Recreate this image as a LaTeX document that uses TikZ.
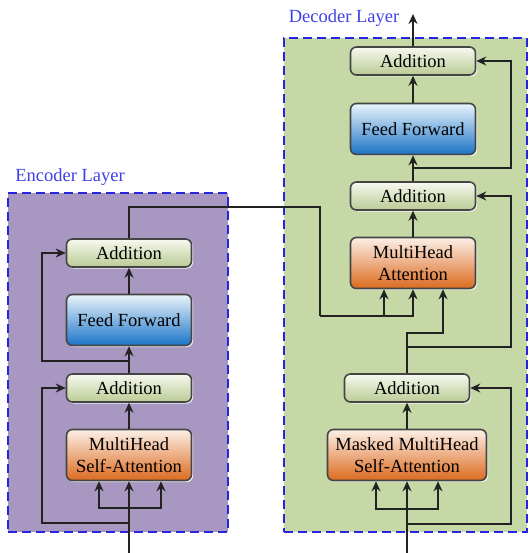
\documentclass[tikz,border=0pt]{standalone}
\usepackage{fontspec}
\setmainfont{Liberation Serif}
\usepackage{tikz}
\usepackage{xcolor}
\usetikzlibrary{arrows.meta, shadows}

\definecolor{encpurple}{HTML}{A897C0}
\definecolor{decgreen}{HTML}{C5D8A6}
\definecolor{layerblue}{HTML}{2626E0}
\definecolor{labelblue}{HTML}{4040E6}
\definecolor{edgegray}{HTML}{454545}
\definecolor{linegray}{HTML}{222222}
\definecolor{addtop}{HTML}{F7F9F0}
\definecolor{addbottom}{HTML}{BACB94}
\definecolor{fftop}{HTML}{EAF4FB}
\definecolor{ffbottom}{HTML}{1A74C8}
\definecolor{atttop}{HTML}{FCF0E8}
\definecolor{attbottom}{HTML}{DC6A1E}

\begin{document}
\begin{tikzpicture}[
    x=1pt, y=-1pt,
    font=\fontsize{18.5}{22}\selectfont,
    layerbox/.style={rectangle, draw=layerblue, line width=1.8pt, dash pattern=on 9pt off 5pt},
    layerlabel/.style={text=labelblue, inner sep=0pt},
    block/.style={rectangle, rounded corners=6pt, draw=edgegray, line width=1.6pt, minimum width=125pt, align=center, inner sep=2pt,
        drop shadow={shadow xshift=1.5pt, shadow yshift=-1.5pt, fill=white, opacity=0.85}},
    addbox/.style={block, minimum height=28pt, top color=addtop, bottom color=addbottom},
    ffbox/.style={block, minimum height=51pt, top color=fftop, bottom color=ffbottom},
    attbox/.style={block, minimum height=51pt, top color=atttop, bottom color=attbottom},
    arrow/.style={-{Stealth[length=10pt, width=9pt, fill=edgegray]}, draw=linegray, line width=1.5pt},
    link/.style={draw=linegray, line width=1.5pt}
]
\useasboundingbox (0,0) rectangle (529,553);

% Layer frames
\node[layerbox, fill=encpurple, minimum width=220pt, minimum height=339pt] (encLayer) at (118,362.5) {};
\node[layerbox, fill=decgreen, minimum width=243pt, minimum height=494pt] (decLayer) at (405.5,285) {};
\node[layerlabel] (encLabel) at (70,177) {Encoder Layer};
\node[layerlabel] (decLabel) at (344,18) {Decoder Layer};

% Encoder
\node[attbox] (encAttn) at (129,455) {MultiHead\\Self-Attention};
\node[addbox] (encAdd1) at (129,388) {Addition};
\node[ffbox] (encFF) at (129,320) {Feed Forward};
\node[addbox] (encAdd2) at (129,253) {Addition};

% Decoder
\node[attbox, minimum width=159pt] (decMasked) at (407,455) {Masked MultiHead\\Self-Attention};
\node[addbox] (decAdd1) at (407,388) {Addition};
\node[attbox] (decAttn) at (413,263) {MultiHead\\Attention};
\node[addbox] (decAdd2) at (413,196) {Addition};
\node[ffbox] (decFF) at (413,129) {Feed Forward};
\node[addbox] (decAdd3) at (413,61) {Addition};

% Helper points
\coordinate (encIn) at (129,553);
\coordinate (encFan) at (129,508);
\coordinate (encRes1) at (129,523);
\coordinate (encRes2) at (129,361);
\coordinate (encLink) at (320,316);
\coordinate (decIn) at (407,553);
\coordinate (decFan) at (407,509);
\coordinate (decRes1) at (407,524);
\coordinate (decRes2) at (407,347);
\coordinate (decQ) at (407,333);
\coordinate (decRes3) at (413,168);
\coordinate (decOut) at (413,14);

% Encoder connections
\draw[arrow] (encIn) -- (encAttn.south);
\draw[arrow] (encFan) -| ([xshift=-30pt]encAttn.south);
\draw[arrow] (encFan) -| ([xshift=32pt]encAttn.south);
\draw[arrow] (encRes1) -- ++(-87,0) |- (encAdd1.west);
\draw[arrow] (encAttn.north) -- (encAdd1.south);
\draw[arrow] (encAdd1.north) -- (encFF.south);
\draw[arrow] (encRes2) -- ++(-87,0) |- (encAdd2.west);
\draw[arrow] (encFF.north) -- (encAdd2.south);

% Encoder output into decoder
\draw[link] (encAdd2.north) -- ++(0,-31) -| (encLink);
\draw[arrow] (encLink) -| ([xshift=-29pt]decAttn.south);
\draw[arrow] (encLink) -| (decAttn.south);

% Decoder connections
\draw[arrow] (decIn) -- (decMasked.south);
\draw[arrow] (decFan) -| ([xshift=-31pt]decMasked.south);
\draw[arrow] (decFan) -| ([xshift=31pt]decMasked.south);
\draw[arrow] (decRes1) -- ++(104,0) |- (decAdd1.east);
\draw[arrow] (decMasked.north) -- (decAdd1.south);
\draw[arrow] (decAdd1.north) -- (decQ) -| ([xshift=30pt]decAttn.south);
\draw[arrow] (decRes2) -- ++(104,0) |- (decAdd2.east);
\draw[arrow] (decAttn.north) -- (decAdd2.south);
\draw[arrow] (decAdd2.north) -- (decFF.south);
\draw[arrow] (decRes3) -- ++(98,0) |- (decAdd3.east);
\draw[arrow] (decFF.north) -- (decAdd3.south);
\draw[arrow] (decAdd3.north) -- (decOut);

\end{tikzpicture}
\end{document}
